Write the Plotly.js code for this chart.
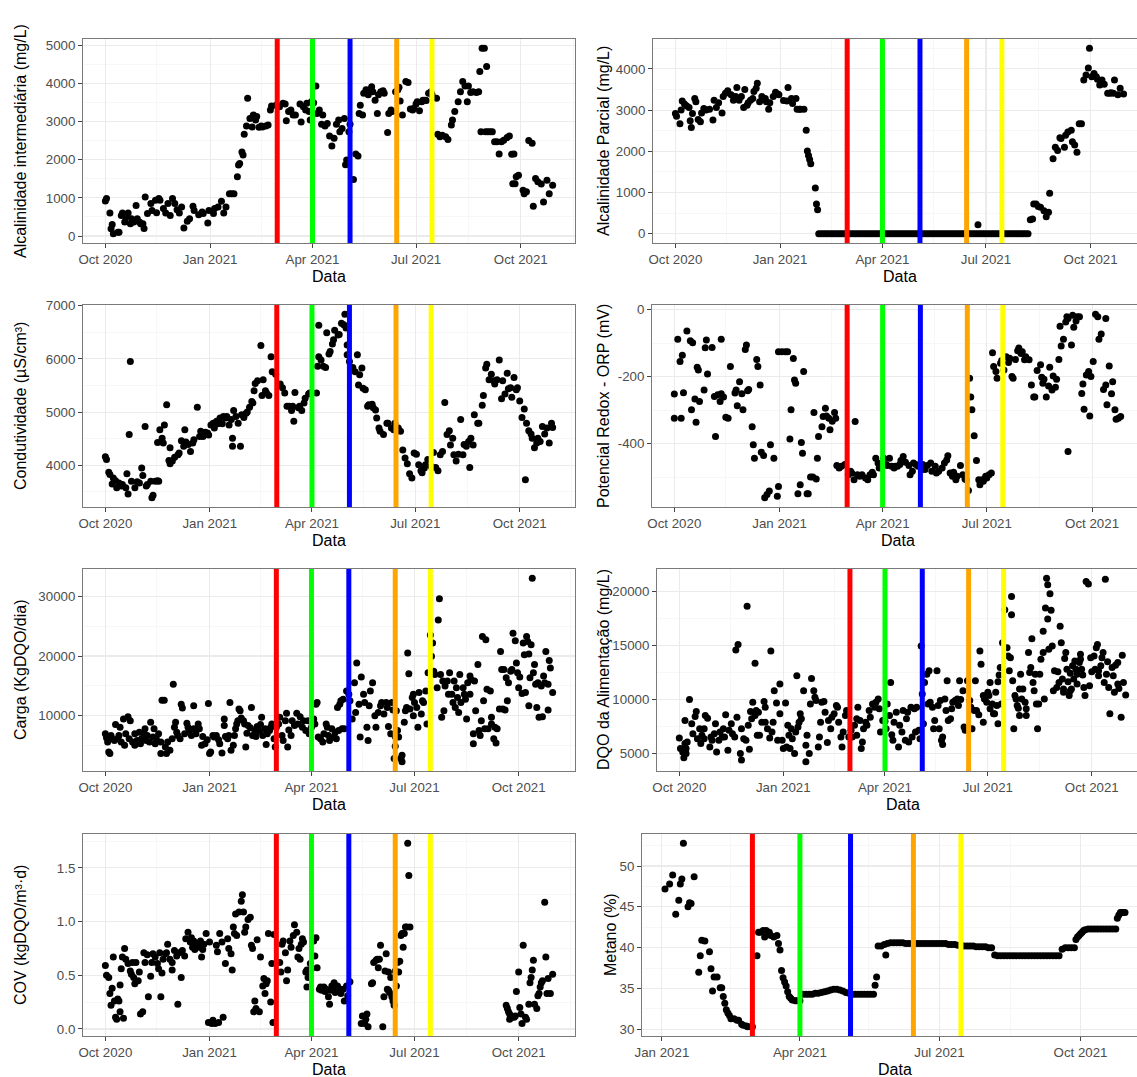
<!DOCTYPE html>
<html><head><meta charset="utf-8">
<script src="https://cdn.plot.ly/plotly-3.0.1.min.js"></script>
<style>html,body{margin:0;padding:0;background:#fff}#chart{width:1137px;height:1077px}</style>
</head><body><div id="chart"></div>
<script>
// Days are counted from 2020-10-01
const alcIntDay = [0,1,4,5,6,7,11,12,14,15,17,18,20,22,23,25,27,28,30,31,33,34,35,37,40,41,44,45,47,48,51,53,55,57,59,61,63,65,67,69,72,74,77,78,82,85,86,90,91,95,96,99,102,104,106,109,111,113,116,117,118,120,121,122,124,125,127,129,130,132,133,135,137,138,141,143,145,146,150,153,156,158,159,161,163,165,167,171,172,174,176,177,179,180,181,183,185,186,188,190,191,193,195,197,199,201,203,205,206,208,210,211,212,214,215,218,220,222,223,224,226,227,229,231,232,234,235,237,239,240,242,244,245,248,249,251,252,255,257,258,259,261,264,266,268,270,271,273,274,276,278,279,281,282,284,286,287,291,292,294,296,299,301,304,305,307,310,312,314,316,318,319,321,323,326,328,329,330,331,333,334,335,336,338,340,342,344,346,348,350,353,355,357,358,359,360,361,363,367,368,370,372,375,376,378,380,383,385,388,390,393];
const alcIntVal = [920,980,600,190,300,60,100,100,540,600,370,500,600,320,450,370,800,450,370,320,320,200,1020,590,850,670,940,610,980,940,720,600,850,540,980,850,690,600,760,210,390,455,780,670,560,630,590,340,670,590,720,760,910,600,760,1110,1110,1110,1550,1860,1900,2200,2120,2670,2880,3610,3080,2860,3170,3040,3130,2850,2880,2860,2880,2910,3300,3410,3430,3390,3480,3460,3020,3260,3300,3170,3170,3460,2990,3390,3300,3480,3260,3040,3520,3490,3930,3210,3300,2930,3170,2880,2950,2620,2360,2560,2930,3040,2730,2820,3080,1870,1990,2730,2930,1480,2150,2100,3210,3430,3170,3740,3830,3700,3830,3910,3780,3560,3210,3700,3780,3810,3740,2710,3210,3300,3260,3780,3830,3900,3540,3170,4050,4020,3330,3300,3350,3460,3520,3280,3520,3560,3560,3550,3740,3780,3700,3610,2670,2600,2640,2600,2530,2910,3040,3260,3520,3780,4050,3930,3520,3930,3760,3780,3760,3780,4310,2730,4920,4920,2730,4440,2730,2730,2730,2470,2470,2150,2470,2510,2580,2620,2140,1370,2150,1370,1550,1590,1200,1110,1160,2500,2430,780,1510,1420,1360,890,1460,1110,1330];

const alcParDay = [0,1,4,5,6,8,10,12,13,14,15,17,18,20,22,23,25,27,30,33,34,36,38,41,42,44,46,49,51,53,54,56,58,60,61,63,64,66,68,69,71,72,74,76,79,80,82,83,86,88,90,91,95,98,99,102,103,106,107,109,110,113,115,116,117,118,119,123,124,125,266,312,314,315,317,319,321,324,326,328,329,332,334,336,338,339,342,343,345,348,349,351,353,355,357,359,361,363,364,366,368,370,371,373,375,377,380,382,383,385,386,389,391,394];
const alcParVal = [2920,2850,2670,3000,3220,3150,3100,3060,2740,2580,2920,3280,3200,2770,2720,2930,3040,3000,3020,2760,3240,3060,3180,2930,3330,3410,3470,3370,3240,3330,3550,3240,3330,3060,3500,3120,3180,3240,3280,3450,3530,3650,3200,3330,3280,3200,3020,3180,3330,3430,3390,3370,3230,3220,3550,3280,3160,3280,3020,3020,3020,3020,2510,2010,1900,1800,1700,1110,720,580,220,340,360,720,720,660,640,560,410,520,980,1820,2100,2020,2330,2310,2100,2390,2470,2510,2230,2150,1980,2670,2670,3730,3850,4020,4500,3810,3890,3810,3750,3610,3730,3630,3410,3410,3420,3410,3730,3370,3530,3390];
const alcParZeroDay = [126,128,130,132,134,136,138,140,142,144,146,148,150,152,154,156,158,160,162,164,166,168,170,172,174,176,178,180,182,184,186,188,190,192,194,196,198,200,202,204,206,208,210,212,214,216,218,220,222,224,226,228,230,232,234,236,238,240,242,244,246,248,250,252,254,256,258,260,262,264,266,268,270,272,274,276,278,280,282,284,286,288,290,292,294,296,298,300,302,304,306,308,310];
const alcParZeroVal = [0,0,0,0,0,0,0,0,0,0,0,0,0,0,0,0,0,0,0,0,0,0,0,0,0,0,0,0,0,0,0,0,0,0,0,0,0,0,0,0,0,0,0,0,0,0,0,0,0,0,0,0,0,0,0,0,0,0,0,0,0,0,0,0,0,0,0,0,0,0,0,0,0,0,0,0,0,0,0,0,0,0,0,0,0,0,0,0,0,0,0,0,0];

const condDay = [0,1,3,4,6,7,9,10,12,14,15,18,19,20,21,22,23,26,28,30,32,33,35,36,37,40,41,42,44,46,47,46,48,50,51,52,54,56,57,57,59,61,64,65,67,69,70,71,73,75,77,78,81,83,84,86,88,90,91,93,95,96,98,99,101,103,104,106,107,109,111,112,112,113,115,117,119,120,122,124,125,127,129,130,131,132,134,137,138,139,141,142,144,146,147,150,154,156,158,160,162,164,165,166,167,170,171,173,175,176,179,180,186,187,188,188,190,192,194,195,197,198,200,201,202,205,206,208,210,211,212,213,213,215,218,220,222,223,224,226,227,229,231,232,235,236,238,239,241,242,245,248,249,252,254,255,258,260,262,264,266,268,270,272,274,276,278,279,281,282,284,287,289,291,293,295,297,299,301,303,304,306,307,309,311,313,315,316,318,320,321,322,324,325,328,329,332,333,335,336,338,340,342,343,345,347,349,350,352,354,355,357,358,360,362,363,365,367,369,370,371,373,375,376,378,380,381,383,385,387,389,391,393,394];
const condVal = [4160,4110,3870,3830,3650,3760,3710,3580,3670,3610,3640,3580,3840,3460,4580,5950,3700,3580,3690,3670,3950,3810,4730,3610,3640,3700,3390,3440,3700,3710,3700,4430,4670,4510,4420,4760,5140,4090,4330,4030,4080,4150,4200,4230,4460,4360,4670,4440,4390,4260,4420,4480,5090,4540,4640,4540,4620,4610,4570,4760,4790,4700,4830,4780,4890,4780,4920,4890,4920,4760,4860,4510,4360,5030,4920,4790,4360,4950,4900,4980,5000,5090,5200,5170,5400,5540,5590,6250,5310,5610,5400,5360,5310,6040,5760,5710,5530,5460,5360,5110,5110,5030,5110,4830,5370,5080,5110,5030,5170,5260,5340,5360,5360,5860,6630,6040,5980,5860,5840,6490,6090,6140,6280,6360,6540,6450,6460,6670,6640,6840,6580,6260,6080,5950,5840,5760,6080,5510,5700,5830,5450,5420,5110,5140,5150,5080,5040,4890,4700,4640,4580,4790,4790,4700,4670,4790,4700,4640,4290,4140,4030,3840,3760,4230,4210,4010,3900,3860,3950,4010,4110,3980,4240,3960,3900,4200,4260,5180,4580,4650,4380,4510,4200,4080,4210,4860,4200,4390,4360,4450,3960,4510,4380,4950,4790,4790,5130,5310,5830,5900,5610,5710,5590,5530,5610,5980,5250,5590,5340,5730,5440,5460,5280,5650,5420,5460,5210,4900,5060,3730,4790,4650,4590,4510,4330,4420,4510,4450,4730,4590,4700,4420,4790,4710];

const orpDay = [0,0,3,5,6,7,8,11,14,15,16,18,19,20,21,22,26,27,28,29,33,35,36,38,40,41,41,43,45,47,49,53,54,55,57,59,60,62,63,64,65,68,69,70,72,73,75,76,78,79,81,83,84,87,90,91,91,94,97,99,101,102,104,105,106,108,110,111,112,113,116,117,119,121,122,124,125,126,129,130,132,133,135,136,138,140,141,142,144,146,149,152,154,155,157,158,160,162,164,167,169,171,173,174,176,178,179,181,183,185,186,188,190,192,193,195,197,198,200,202,205,206,208,209,211,213,216,217,219,221,224,225,228,229,231,234,236,238,239,241,243,244,246,247,250,252,254,255,257,258,259,260,262,264,266,267,269,270,272,273,275,277,278,279,281,282,285,286,288,290,292,293,295,296,298,300,301,303,304,306,307,310,312,314,315,317,320,321,322,323,325,327,328,330,331,333,334,336,337,338,340,342,343,344,344,347,348,349,351,352,354,356,357,358,360,362,363,364,366,368,370,371,373,375,377,377,378,380,382,383,385,386,388,390];
const orpVal = [-252,-324,-89,-155,-324,-136,-248,-64,-93,-299,-99,-267,-336,-172,-180,-274,-240,-114,-91,-192,-113,-259,-378,-254,-274,-89,-251,-261,-321,-324,-170,-249,-240,-287,-215,-251,-299,-119,-106,-242,-238,-349,-403,-443,-149,-170,-225,-425,-435,-561,-551,-541,-403,-443,-556,-527,-126,-126,-126,-126,-386,-299,-146,-210,-220,-549,-522,-396,-428,-185,-549,-549,-499,-499,-307,-505,-443,-378,-349,-319,-294,-317,-324,-358,-333,-307,-324,-465,-472,-467,-462,-492,-482,-487,-507,-334,-492,-497,-492,-502,-507,-492,-485,-492,-443,-457,-472,-467,-443,-462,-465,-443,-467,-472,-467,-467,-462,-450,-438,-455,-465,-492,-482,-457,-462,-467,-477,-462,-477,-465,-457,-482,-467,-487,-482,-472,-457,-448,-436,-487,-497,-485,-507,-497,-465,-492,-505,-507,-539,-205,-261,-299,-376,-450,-507,-522,-507,-512,-497,-502,-492,-487,-129,-170,-185,-205,-160,-152,-180,-141,-158,-145,-200,-205,-149,-123,-115,-131,-126,-150,-141,-150,-225,-261,-261,-182,-165,-202,-220,-208,-261,-228,-172,-240,-198,-232,-208,-149,-50,-109,-89,-37,-22,-27,-423,-106,-17,-53,-34,-22,-22,-250,-222,-297,-195,-185,-317,-200,-155,-14,-22,-89,-73,-238,-27,-225,-284,-168,-251,-215,-299,-327,-324,-319];

const cargaDay = [0,1,2,3,4,5,6,8,9,11,12,13,14,16,17,18,20,21,22,24,26,26,28,30,31,32,34,35,36,37,39,40,42,43,44,45,47,49,49,50,52,53,54,55,57,59,60,61,62,63,64,66,67,68,70,72,73,74,76,78,78,80,82,83,85,86,88,90,91,92,93,95,96,98,100,101,103,105,105,106,108,109,110,111,113,114,115,116,117,118,119,120,122,123,124,125,126,128,129,130,132,133,134,135,136,137,138,139,141,142,143,145,146,147,149,150,151,153,154,156,157,159,160,161,162,164,165,167,169,170,172,174,175,177,179,180,182,184,185,186,187,188,190,192,193,195,196,197,198,200,202,203,204,205,206,207,208,209,210,211,213,215,216,218,220,221,222,224,225,226,228,229,231,232,233,234,236,238,239,241,243,244,246,248,249,250,252,253,254,255,256,256,257,258,259,261,262,262,264,265,266,267,268,269,271,272,272,273,275,276,277,279,280,281,283,284,285,287,288,289,290,291,293,294,295,296,297,298,299,300,302,303,304,306,307,308,309,310,311,312,313,314,316,317,318,319,320,322,322,323,325,325,326,327,329,330,331,332,333,334,335,336,337,338,340,341,341,343,344,345,346,348,349,350,351,352,353,354,355,356,358,359,360,362,363,364,365,366,368,369,370,371,372,373,374,374,375,376,377,378,379,380,381,382,383,385,386,387,388,389,391,391,392,393,395];
const cargaVal = [6960,6300,5580,3920,3650,6680,6130,5860,8510,6130,6680,8070,5580,9450,5030,6960,9830,6130,9170,5580,5030,6960,5860,7240,5300,6130,6960,7790,5860,6680,5580,8900,6410,7790,5300,6130,6960,3650,5580,12600,12600,4750,3650,5580,4200,6130,15250,8070,8900,7240,6680,6130,11930,11270,6960,8730,8070,7510,6680,11660,7790,6960,8620,7790,5030,6520,5300,5970,12040,3650,3920,6680,6410,6680,5970,5300,3760,8340,9450,6520,6130,6680,12210,4200,5030,6680,7790,8620,9170,11100,10830,9610,9170,8620,4750,7070,8340,7960,11380,6680,7510,6520,8180,7790,7400,8510,9720,6680,7790,5190,6960,7510,8070,8620,6130,4750,8070,8620,9720,6680,5860,9170,10390,4750,7620,6680,9170,8340,10390,8620,9830,8070,9170,7510,9170,6960,8070,9450,8620,11930,12210,6410,6130,5580,6960,8620,8070,6680,5860,7790,6410,7240,6130,11380,7510,11930,12490,7790,12760,7790,14140,13590,12490,9450,15530,10550,18840,11930,6410,16470,13590,12210,8070,5860,11660,14140,15530,10000,8070,10550,11660,12210,10280,12210,11380,8180,6960,12210,10940,2820,4860,6520,10830,7510,6410,2820,3370,2270,8900,10830,11380,20500,17020,11100,13040,13590,10000,12210,11380,8070,13870,10280,12490,12210,14140,8620,17180,23540,19950,22160,17460,16910,14700,26020,29610,16910,9720,15800,10830,14970,15800,13590,17180,13590,12210,15800,11380,14700,13040,10550,16910,12210,14700,13590,12760,9450,15530,13590,16630,16080,6960,5300,15800,10830,18560,7510,6680,9170,23260,12490,7790,22710,14420,7790,14140,8620,9720,6130,8070,5410,7790,11100,20770,17740,11100,17740,10940,16350,12490,15530,17460,17740,23820,22540,18840,17180,14700,16470,13700,22160,20220,13870,23260,22430,20330,11660,16350,21880,33040,17180,18560,15250,11380,15530,9720,14970,9830,16630,15530,20770,15250,10940,19230,18010,13870];

const dqoDay = [0,1,3,4,5,5,6,6,7,9,11,12,14,15,16,18,19,20,22,22,23,25,27,28,29,31,32,33,35,36,38,39,40,41,43,44,46,47,49,50,51,52,54,55,55,57,59,60,61,62,63,64,65,67,67,68,69,70,71,73,75,76,76,78,80,81,82,83,84,86,87,89,89,91,92,94,95,96,97,98,99,100,102,103,104,105,106,107,108,110,112,112,113,115,116,117,119,120,121,123,124,125,126,128,129,131,132,134,135,137,139,140,141,143,144,145,147,148,150,152,153,155,157,157,158,160,161,162,163,165,166,168,169,171,173,174,176,177,178,180,182,183,184,186,187,188,189,190,192,194,195,197,198,200,201,202,203,205,206,208,209,210,212,213,214,215,216,217,219,220,221,222,224,225,226,228,229,230,231,232,233,233,235,236,237,238,240,241,242,244,246,247,248,249,251,252,253,254,255,257,258,259,261,262,263,265,266,267,269,269,270,272,273,274,275,275,277,278,279,280,281,282,282,283,284,285,286,288,290,291,292,293,294,294,295,296,297,298,299,300,301,301,302,303,304,306,307,307,309,310,311,312,313,314,315,316,317,318,319,320,322,322,323,324,325,326,326,327,328,329,330,331,332,334,335,336,337,338,339,340,340,341,342,343,344,345,346,346,347,348,349,350,351,352,352,354,355,355,356,357,358,359,360,362,363,364,365,367,368,369,370,371,371,373,374,375,376,377,378,379,380,381,383,384,385,386,388,388,389,391,392,393,395];
const dqoVal = [6440,5460,5150,4600,5920,8070,5000,5460,6070,10000,7760,6840,8440,8900,6380,7300,5920,6690,6380,7300,8530,8280,5610,6530,6230,6840,7760,5150,6230,6990,6530,7300,6530,8590,5310,7150,7760,6840,6530,14600,8370,15120,5000,4390,7300,6380,6230,18650,7610,5400,8900,8220,9750,13370,8530,8990,6690,8830,6690,7910,9820,9290,7910,7300,6440,14510,6990,7910,10830,9690,6230,11440,8680,6230,5460,9690,5610,7610,6690,5460,7300,6380,5000,6990,12210,7450,7910,8680,8220,10830,5770,4230,6690,5000,9600,11960,10830,10220,9910,5610,6530,7910,9750,9820,8830,6010,8070,7300,8370,8680,9450,9290,7910,6530,5610,6990,8530,8990,6530,7150,6530,7610,8220,6690,9290,8070,5460,6070,7300,7910,7610,8990,8370,9600,9290,9750,10060,9140,6990,8070,7990,7300,9600,8530,11590,6750,6230,7910,8830,5610,7610,6990,8990,6230,8220,8830,6070,9290,6530,9140,6990,9290,7150,6380,14970,10520,7760,11590,12360,9600,12670,9750,9290,7300,8070,12670,9450,7300,9910,6230,5830,6530,10060,8990,11750,8070,8220,9140,9750,9910,10060,9450,11750,10000,10830,7450,7150,7300,11750,9910,9290,7300,8990,11750,8990,8590,14510,13280,7910,10370,10060,9750,10680,10370,11590,9140,9600,8680,8680,10680,9450,11650,7760,12270,12980,9600,15270,18340,14820,14050,12670,13890,19570,17880,11750,7300,10370,10060,9450,9200,8530,10980,12360,10060,10980,9750,9140,8530,14360,12520,12980,15640,11590,10830,12360,9600,7300,9600,12360,13740,16350,14360,10060,18490,21260,20640,17480,14660,19810,18280,14970,10830,12670,11130,12580,11590,16810,15270,11900,10980,10680,13800,14360,12820,11650,10370,10830,12450,10980,13130,11900,13590,12820,12360,11440,13430,13740,14200,12820,12270,11130,10370,20950,20730,11290,13890,12580,14050,12820,14820,15120,12210,12670,13130,13890,14360,11590,21160,12360,13500,11130,8680,12980,12210,10680,13190,13430,11440,11040,8370,14110,11590,10430];

const covDay = [0,1,3,4,5,6,7,8,9,10,11,12,13,13,14,15,16,17,18,20,22,23,24,25,26,27,29,30,31,33,34,35,37,38,40,41,42,44,46,47,48,49,50,51,53,54,55,57,59,59,61,63,64,65,67,68,70,71,73,75,76,77,78,79,81,83,84,85,86,87,89,91,92,94,95,97,98,99,100,101,103,104,106,108,109,111,112,113,114,115,116,118,120,121,122,123,124,126,128,129,130,131,132,133,134,136,137,139,140,141,142,143,144,146,147,148,149,154,155,156,157,159,160,161,163,164,166,167,169,170,171,172,173,174,175,177,178,178,179,181,182,184,185,186,187,189,190,191,193,194,195,197,198,199,200,201,202,203,205,206,208,210,211,213,214,216,226,227,229,230,231,232,235,236,237,239,240,241,242,243,245,246,247,248,249,250,250,251,252,253,254,255,256,257,258,259,260,261,262,263,264,265,266,267,268,269,354,355,356,357,357,358,359,361,362,363,365,366,367,368,369,371,372,374,375,376,377,378,379,381,382,383,384,385,386,388,389,390,391,393,395];
const covVal = [0.59,0.50,0.48,0.33,0.22,0.38,0.67,0.26,0.11,0.09,0.28,0.26,0.16,0.41,0.56,0.67,0.10,0.75,0.65,0.61,0.54,0.51,0.62,0.48,0.42,0.62,0.45,0.53,0.14,0.16,0.71,0.62,0.69,0.30,0.49,0.62,0.70,0.67,0.61,0.56,0.71,0.30,0.52,0.65,0.70,0.71,0.79,0.65,0.55,0.62,0.73,0.68,0.23,0.71,0.48,0.73,0.68,0.84,0.90,0.81,0.85,0.76,0.82,0.74,0.79,0.76,0.82,0.67,0.74,0.79,0.89,0.06,0.81,0.05,0.08,0.05,0.78,0.72,0.06,0.89,0.81,0.11,0.61,0.84,0.75,0.70,0.55,0.95,0.89,1.07,0.87,1.09,1.19,1.25,1.09,0.90,0.95,1.02,1.04,0.78,0.75,0.16,0.26,0.19,0.83,0.16,0.67,0.40,0.47,0.33,0.42,0.45,0.89,0.25,0.61,0.06,0.88,0.62,0.53,0.79,0.82,0.71,0.45,0.55,0.82,0.76,0.87,0.97,0.90,0.67,0.75,0.65,0.79,0.84,0.81,0.53,0.39,0.55,0.48,0.61,0.56,0.82,0.68,0.85,0.57,0.37,0.39,0.36,0.39,0.35,0.37,0.30,0.23,0.36,0.40,0.37,0.43,0.34,0.40,0.38,0.33,0.37,0.26,0.40,0.31,0.44,0.05,0.12,0.05,0.09,0.14,0.02,0.42,0.43,0.62,0.64,0.65,0.57,0.65,0.78,0.02,0.30,0.54,0.70,0.37,0.36,0.53,0.34,0.48,0.30,0.26,0.22,0.54,0.40,0.62,0.53,0.63,0.87,0.89,0.76,0.89,0.95,0.95,1.73,1.43,0.95,0.22,0.19,0.16,0.14,0.09,0.12,0.11,0.11,0.12,0.35,0.53,0.20,0.14,0.05,0.78,0.11,0.09,0.23,0.43,0.48,0.55,0.64,0.23,0.19,0.31,0.33,0.39,0.43,0.45,1.18,0.67,0.33,0.47,0.33,0.51];

const metanoDay = [94,97,99,101,103,104,105,106,109,110,111,113,116,117,118,120,123,124,125,126,128,130,131,132,133,134,135,136,137,139,141,142,144,145,147,148,150,151,154,155,156,158,159,160,162,163,165,167,168,169,170,171,172,173,174,175,176,177,179,180,182,184,186,188,190,192,194,196,198,200,202,204,206,208,210,212,214,216,218,220,222,224,226,228,230,231,232,233,235,237,238,239,241,243,245,247,249,251,253,255,257,259,261,263,265,267,269,271,273,275,277,279,281,283,285,287,289,291,293,295,297,299,301,303,305,307,309,311,313,315,317,319,321,323,325,327,329,331,333,335,337,339,341,343,345,347,349,351,353,355,357,359,361,362,363,364,365,366,367,368,370,372,374,376,378,380,382,384,386,388,389,390,391,392,393,394];
const metanoVal = [47.2,47.8,48.9,44.1,45.8,47.8,48.4,52.8,45.0,45.5,45.4,48.7,37.0,39.0,40.9,40.8,39.5,37.4,34.7,36.4,36.4,35.1,35.1,34.0,33.2,32.4,32.0,31.7,31.3,31.3,31.1,31.1,30.6,30.5,30.4,30.3,30.3,30.3,39.0,41.9,41.9,42.1,41.3,42.1,41.9,41.5,41.3,41.5,40.5,39.7,37.2,36.3,35.8,35.3,34.6,34.0,33.8,33.6,33.5,33.5,33.5,34.3,34.3,34.3,34.3,34.4,34.4,34.5,34.6,34.7,34.8,34.9,34.9,34.8,34.7,34.5,34.4,34.3,34.3,34.3,34.3,34.3,34.3,34.3,34.3,35.4,36.4,40.2,40.2,40.4,39.1,40.5,40.6,40.6,40.6,40.6,40.6,40.5,40.5,40.5,40.5,40.5,40.5,40.5,40.5,40.5,40.5,40.5,40.5,40.5,40.5,40.4,40.4,40.4,40.3,40.3,40.2,40.2,40.2,40.2,40.1,40.1,40.1,40.1,40.0,40.0,39.1,39.0,39.0,39.0,39.0,39.0,39.0,39.0,39.0,39.0,39.0,39.0,39.0,39.0,39.0,39.0,39.0,39.0,39.0,39.0,39.0,39.0,39.8,40.0,40.0,40.0,40.0,41.0,41.3,41.5,41.7,41.9,42.1,42.2,42.3,42.3,42.3,42.3,42.3,42.3,42.3,42.3,42.3,42.3,43.6,44.0,44.3,44.3,44.3,44.3];

const phaseDates = ['2021-03-01','2021-04-01','2021-05-04','2021-06-14','2021-07-15'];
const phaseColors = ['#FF0000','#00FF00','#0000FF','#FFA500','#FFFF00'];

const xTickVals = ['2020-10-01','2021-01-01','2021-04-01','2021-07-01','2021-10-01'];
const xTickText = ['Oct 2020','Jan 2021','Apr 2021','Jul 2021','Oct 2021'];
const xMinorVals = ['2020-08-16','2020-11-15','2021-02-15','2021-05-16','2021-08-16','2021-11-16'];

const yTicks1 = [0,1000,2000,3000,4000,5000], yText1 = ['0','1000','2000','3000','4000','5000'], yMinor1 = [500,1500,2500,3500,4500];
const yTicks2 = [0,1000,2000,3000,4000], yText2 = ['0','1000','2000','3000','4000'], yMinor2 = [500,1500,2500,3500,4500];
const yTicks3 = [4000,5000,6000,7000], yText3 = ['4000','5000','6000','7000'], yMinor3 = [3500,4500,5500,6500];
const yTicks4 = [-400,-200,0], yText4 = ['-400','-200','0'], yMinor4 = [-500,-300,-100];
const yTicks5 = [10000,20000,30000], yText5 = ['10000','20000','30000'], yMinor5 = [5000,15000,25000];
const yTicks6 = [5000,10000,15000,20000], yText6 = ['5000','10000','15000','20000'], yMinor6 = [7500,12500,17500];
const yTicks7 = [0,0.5,1,1.5], yText7 = ['0.0','0.5','1.0','1.5'], yMinor7 = [0.25,0.75,1.25,1.75];
const yTicks8 = [30,35,40,45,50], yText8 = ['30','35','40','45','50'], yMinor8 = [32.5,37.5,42.5,47.5,52.5];

const yTitles = ['Alcalinidade intermediária (mg/L)','Alcalinidade Parcial (mg/L)','Condutividade (µS/cm³)','Potencial Redox - ORP (mV)','Carga (KgDQO/dia)','DQO da Alimentação (mg/L)','COV (kgDQO/m³·d)','Metano (%)'];
const xTitle = 'Data';

// ---------- drawing ----------
const W = 1137, H = 1077;
const FONT = '"Liberation Sans", Arial, Helvetica, sans-serif';
const DAY_MS = 86400000, BASE_MS = Date.UTC(2020, 9, 1);
function dayToDate(d) {
  return new Date(BASE_MS + d * DAY_MS).toISOString().replace('T', ' ').replace('Z', '');
}

// box: [left, full right (may lie beyond the picture edge), top, bottom] in px
const panels = [
  {days:[alcIntDay], vals:[alcIntVal], yt:yTicks1, ytx:yText1, ym:yMinor1, box:[83,575,39,243], tx:20},
  {days:[alcParDay, alcParZeroDay], vals:[alcParVal, alcParZeroVal], yt:yTicks2, ytx:yText2, ym:yMinor2, box:[653,1146,39,243], tx:603},
  {days:[condDay], vals:[condVal], yt:yTicks3, ytx:yText3, ym:yMinor3, box:[83,575,305,507], tx:20},
  {days:[orpDay], vals:[orpVal], yt:yTicks4, ytx:yText4, ym:yMinor4, box:[652,1143,305,507], tx:603},
  {days:[cargaDay], vals:[cargaVal], yt:yTicks5, ytx:yText5, ym:yMinor5, box:[83,575,569,771], tx:20},
  {days:[dqoDay], vals:[dqoVal], yt:yTicks6, ytx:yText6, ym:yMinor6, box:[657,1148,569,771], tx:603},
  {days:[covDay], vals:[covVal], yt:yTicks7, ytx:yText7, ym:yMinor7, box:[83,575,834,1036], tx:20},
  {days:[metanoDay], vals:[metanoVal], yt:yTicks8, ytx:yText8, ym:yMinor8, box:[642,1148,834,1036], tx:610}
];

const traces = [], shapes = [], annotations = [];
const layout = {
  width: W, height: H, margin: {l:0, r:0, t:0, b:0},
  paper_bgcolor: '#FFFFFF', plot_bgcolor: '#FFFFFF', showlegend: false,
  font: {family: FONT}
};

function expand(lo, hi) { const r = hi - lo; return [lo - 0.05 * r, hi + 0.05 * r]; }

panels.forEach((p, i) => {
  const n = i + 1;
  const xa = 'x' + (n === 1 ? '' : n), ya = 'y' + (n === 1 ? '' : n);
  let allD = [], allV = [];
  p.days.forEach((dArr, k) => {
    allD = allD.concat(dArr); allV = allV.concat(p.vals[k]);
    traces.push({
      type: 'scatter', mode: 'markers', xaxis: xa, yaxis: ya,
      x: dArr.map(dayToDate), y: p.vals[k],
      marker: {color: '#000000', size: 7, line: {width: 0}},
      hoverinfo: 'skip', cliponaxis: true
    });
  });
  const xr = expand(Math.min(...allD), Math.max(...allD));
  const yr = expand(Math.min(...allV), Math.max(...allV));
  const [l, rFull, t, b] = p.box;
  const cut = rFull > W;
  const rVis = cut ? W : rFull;
  const xEnd = xr[0] + (xr[1] - xr[0]) * (rVis - l) / (rFull - l);
  const common = {
    showline: true, linecolor: '#7A7A7A', linewidth: 1,
    ticks: 'outside', ticklen: 4, tickwidth: 1, tickcolor: '#444444',
    showgrid: true, gridcolor: '#EBEBEB', gridwidth: 1.1, zeroline: false,
    tickfont: {family: FONT, size: 13.3, color: '#4D4D4D'},
    fixedrange: true, automargin: false
  };
  layout['xaxis' + (n === 1 ? '' : n)] = Object.assign({}, common, {
    type: 'date', anchor: ya, domain: [l / W, rVis / W], mirror: true,
    range: [dayToDate(xr[0]), dayToDate(xEnd)],
    tickmode: 'array', tickvals: xTickVals, ticktext: xTickText,
    minor: {tickmode: 'array', tickvals: xMinorVals, showgrid: true, gridcolor: '#F2F2F2', gridwidth: 0.6, ticks: ''}
  });
  layout['yaxis' + (n === 1 ? '' : n)] = Object.assign({}, common, {
    anchor: xa, domain: [1 - b / H, 1 - t / H], range: yr, mirror: !cut,
    tickmode: 'array', tickvals: p.yt, ticktext: p.ytx,
    minor: {tickmode: 'array', tickvals: p.ym, showgrid: true, gridcolor: '#F2F2F2', gridwidth: 0.6, ticks: ''}
  });
  phaseDates.forEach((d, k) => {
    shapes.push({
      type: 'line', xref: xa, yref: ya + ' domain', x0: d, x1: d, y0: 0, y1: 1,
      line: {color: phaseColors[k], width: 5}, layer: 'above'
    });
  });
  annotations.push({
    xref: 'paper', yref: 'paper', x: ((l + rFull) / 2) / W, y: 1 - (b + 33) / H,
    xanchor: 'center', yanchor: 'middle', showarrow: false, text: xTitle,
    font: {family: FONT, size: 16, color: '#000000'}
  });
  annotations.push({
    xref: 'paper', yref: 'paper', x: p.tx / W, y: 1 - ((t + b) / 2) / H,
    xanchor: 'center', yanchor: 'middle', showarrow: false, text: yTitles[i], textangle: -90,
    font: {family: FONT, size: 16, color: '#000000'}
  });
});
layout.shapes = shapes;
layout.annotations = annotations;

Plotly.newPlot('chart', traces, layout, {staticPlot: true, displayModeBar: false});
</script>
</body></html>
